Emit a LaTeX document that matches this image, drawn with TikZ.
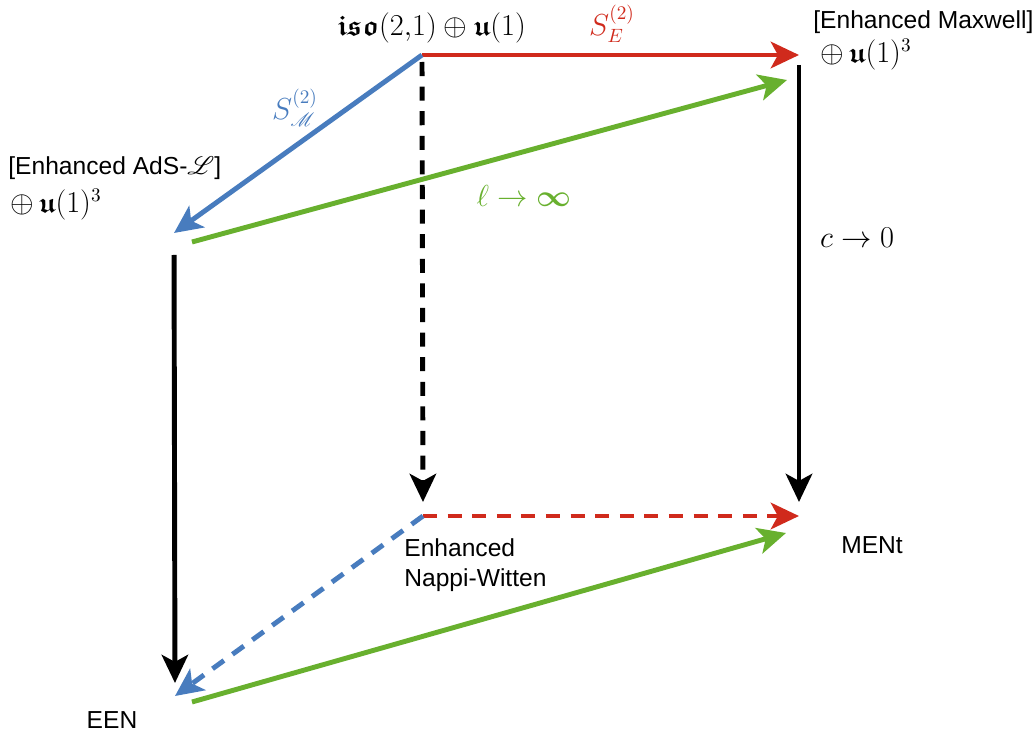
\documentclass[tikz,border=0pt]{standalone}
\usepackage{amsmath,amssymb,amsfonts}
\usepackage{bm}
\usepackage{mathrsfs}
\usepackage{fontspec}
\setmainfont{Liberation Sans}
\usepackage{tikz}
\usetikzlibrary{arrows.meta,positioning,calc}
\usepackage{xcolor}
\definecolor{arrred}{RGB}{208,42,28}
\definecolor{arrblue}{RGB}{72,124,190}
\definecolor{arrgreen}{RGB}{104,176,46}
\tikzset{
  arr/.style={line width=2.8pt,-{Stealth[length=16pt,width=15pt,inset=4pt]}},
  dash14/.style={dash pattern=on 8pt off 6pt},
  lbl/.style={inner sep=0pt,font=\fontsize{14}{17}\selectfont},
  mlbl/.style={inner sep=0pt,font=\fontsize{16}{19}\selectfont}
}

\begin{document}
\begin{tikzpicture}[x=0.02cm,y=-0.02cm]
  \useasboundingbox (0,0) rectangle (1035,737);
  \coordinate (top) at (422,55);
  \coordinate (topR) at (799,55);
  \coordinate (left) at (174,233);
  \coordinate (bot) at (423,516);
  \coordinate (botR) at (799,516);
  \coordinate (botL) at (175,696);
  \coordinate (gA) at (192,242);
  \coordinate (gB) at (787,80);
  \coordinate (gC) at (192,702);
  \coordinate (gD) at (786,533);

  \node[mlbl] (iso) at (432,28) {$\bm{\mathfrak{iso}}(2{,}1)\oplus\bm{\mathfrak{u}}(1)$};
  \node[mlbl,arrred] (se) at (612,24) {$S_E^{(2)}$};
  \node[lbl,anchor=west] (maxw) at (813,22) {[Enhanced Maxwell]};
  \node[mlbl,anchor=west] (maxwu) at (820,55) {$\oplus\,\bm{\mathfrak{u}}(1)^3$};
  \node[mlbl,arrblue] (sm) at (295,108) {$S_{\mathscr{M}}^{(2)}$};
  \node[lbl,anchor=west] (ads) at (8,168) {[Enhanced AdS-$\mathscr{L}$]};
  \node[mlbl,anchor=west] (adsu) at (10,205) {$\oplus\,\bm{\mathfrak{u}}(1)^3$};
  \node[mlbl,arrgreen] (ell) at (524,196) {$\ell\to\bm{\infty}$};
  \node[mlbl] (c0) at (857,238) {$c\to0$};
  \node[lbl,anchor=north west,align=left] (nw) at (404,538) {Enhanced\\Nappi-Witten};
  \node[lbl] (ment) at (872,545) {MENt};
  \node[lbl] (een) at (112,720) {EEN};

  \draw[arr,arrred] (top) -- (topR);
  \draw[arr,arrblue] (top) -- (left);
  \draw[arr,black,dash14,shorten <=0.14cm,shorten >=0.28cm] (top) -- (bot);
  \draw[arr,black,shorten <=0.2cm,shorten >=0.28cm] (topR) -- (botR);
  \draw[arr,black,shorten <=0.44cm,shorten >=0.26cm] (left) -- (botL);
  \draw[arr,arrred,dash14] (bot) -- (botR);
  \draw[arr,arrblue,dash14] (bot) -- (botL);
  \draw[arr,arrgreen] (gA) -- (gB);
  \draw[arr,arrgreen] (gC) -- (gD);
\end{tikzpicture}
\end{document}
